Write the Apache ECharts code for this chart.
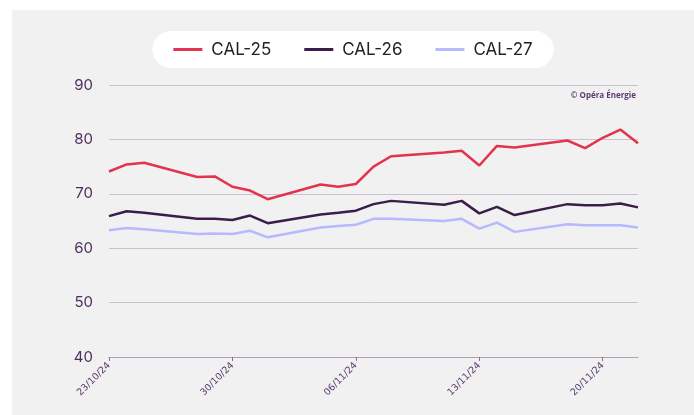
<!DOCTYPE html>
<html>
<head>
<meta charset="utf-8">
<script src="https://cdn.jsdelivr.net/npm/echarts@6/dist/echarts.min.js"></script>
<style>
html,body{margin:0;padding:0;background:#ffffff;}
#chart{position:absolute;left:12px;top:10px;width:682px;height:405px;background:#f1f1f1;}
</style>
</head>
<body>
<div id="chart"></div>
<script>
// Business days with quotes
const dates = ["2024-10-23","2024-10-24","2024-10-25","2024-10-28","2024-10-29","2024-10-30","2024-10-31","2024-11-01",
  "2024-11-04","2024-11-05","2024-11-06","2024-11-07","2024-11-08","2024-11-11","2024-11-12","2024-11-13",
  "2024-11-14","2024-11-15","2024-11-18","2024-11-19","2024-11-20","2024-11-21","2024-11-22"];
const cal25 = [74.1,75.4,75.7,73.1,73.2,71.3,70.6,69.0,71.7,71.3,71.8,75.0,76.9,77.6,77.9,75.2,78.8,78.5,79.8,78.4,80.3,81.8,79.3];
const cal26 = [65.9,66.8,66.5,65.4,65.4,65.2,66.0,64.6,66.2,66.5,66.9,68.1,68.7,68.0,68.7,66.4,67.6,66.1,68.1,67.9,67.9,68.2,67.5];
const cal27 = [63.3,63.7,63.5,62.6,62.7,62.6,63.2,62.0,63.8,64.1,64.3,65.4,65.4,65.0,65.4,63.6,64.7,63.0,64.4,64.2,64.2,64.2,63.8];
const seriesNames = ["CAL-25","CAL-26","CAL-27"];
const yTicks = [40,50,60,70,80,90];

// Calendar-day category axis (weekends kept as gaps that the line bridges)
const start = new Date(dates[0]+"T00:00:00Z");
const end = new Date(dates[dates.length-1]+"T00:00:00Z");
const categories = [];
for (let d = new Date(start); d <= end; d = new Date(d.getTime()+86400000)) {
  categories.push(d.toISOString().slice(0,10));
}
function fmt(iso){const p=iso.split("-");return p[2]+"/"+p[1]+"/"+p[0].slice(2);}
function mapSeries(vals){
  const m = {}; dates.forEach((d,i)=>m[d]=vals[i]);
  return categories.map(c => (c in m) ? m[c] : null);
}

const colors = ["#e0344f","#3c1d4a","#b8b8ff"];
const purple = "#4e2d60";
const chart = echarts.init(document.getElementById('chart'));
chart.setOption({
  animation:false,
  backgroundColor:'#f1f1f1',
  color: colors,
  legend:{
    top:21, left:'center',
    backgroundColor:'#ffffff',
    borderRadius:19,
    padding:[10,21,10,21],
    itemGap:33,
    itemWidth:29, itemHeight:3,
    icon:'rect',
    textStyle:{fontFamily:'Inter, sans-serif',fontSize:17,color:'#222222',padding:[0,0,0,4]},
    data: seriesNames
  },
  grid:{left:97,right:56,top:75,bottom:58},
  graphic:[{
    type:'text', right:58, top:82,
    style:{text:'© Opéra Énergie', font:'bold 8px "Open Sans", sans-serif', fill:'#5a3a6c'}
  }],
  xAxis:{
    type:'category',
    data: categories,
    boundaryGap:false,
    axisLine:{lineStyle:{color:'#b49dbd',width:1}},
    axisTick:{show:true,interval:6,length:4,lineStyle:{color:'#8d6c9a'}},
    axisLabel:{interval:6,rotate:45,fontSize:9.5,color:'#5a3a6c',fontFamily:'"DejaVu Sans", sans-serif',margin:7,formatter:v=>fmt(v)},
    splitLine:{show:false}
  },
  yAxis:{
    type:'value',
    min:yTicks[0], max:yTicks[yTicks.length-1], interval:10,
    axisLine:{show:false},
    axisTick:{show:false},
    axisLabel:{fontSize:15,color:purple,fontFamily:'Inter, sans-serif',margin:16},
    splitLine:{lineStyle:{color:'#cdbfd2',width:1}}
  },
  series: [cal25,cal26,cal27].map((vals,i)=>({
    name: seriesNames[i],
    type:'line',
    data: mapSeries(vals),
    connectNulls:true,
    showSymbol:false,
    symbol:'none',
    lineStyle:{width:2.5,color:colors[i]},
    itemStyle:{color:colors[i]}
  }))
});
</script>
</body>
</html>
